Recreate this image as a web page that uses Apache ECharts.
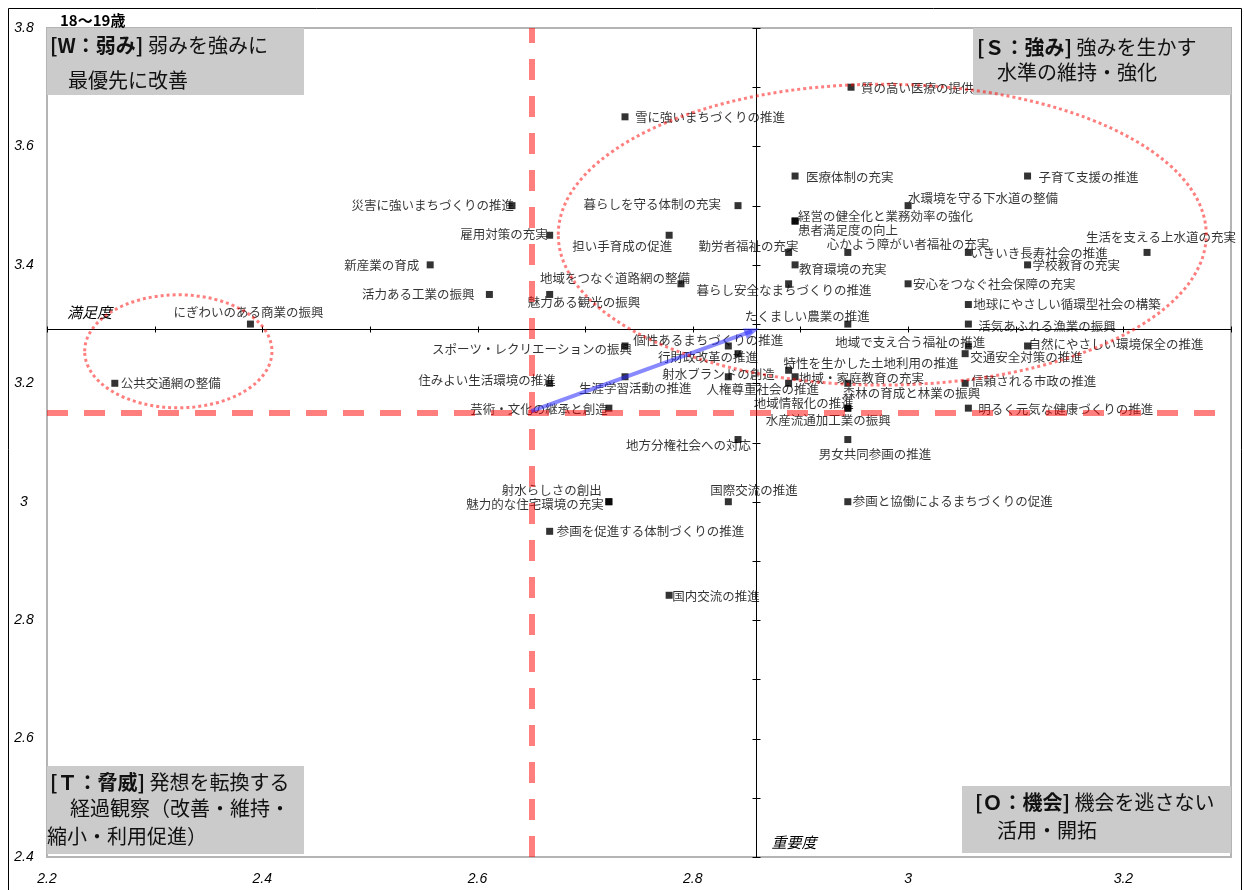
<!DOCTYPE html>
<html>
<head>
<meta charset="utf-8">
<script src="https://cdn.jsdelivr.net/npm/echarts@6/dist/echarts.min.js"></script>
<style>
  html, body { margin: 0; padding: 0; background: #fff; }
  #chart { width: 1244px; height: 890px; }
</style>
</head>
<body>
<div id="chart"></div>
<script>
// 施策ごとの重要度（横）と満足度（縦）
const policyNames = [
  '質の高い医療の提供', '雪に強いまちづくりの推進', '医療体制の充実', '子育て支援の推進',
  '水環境を守る下水道の整備', '経営の健全化と業務効率の強化', '患者満足度の向上', '暮らしを守る体制の充実',
  '災害に強いまちづくりの推進', '雇用対策の充実', '担い手育成の促進', '勤労者福祉の充実',
  '心かよう障がい者福祉の充実', 'いきいき長寿社会の推進', '学校教育の充実', '生活を支える上水道の充実',
  '教育環境の充実', '暮らし安全なまちづくりの推進', '安心をつなぐ社会保障の充実', '地球にやさしい循環型社会の構築',
  '活気あふれる漁業の振興', 'たくましい農業の推進', '新産業の育成', '活力ある工業の振興',
  '地域をつなぐ道路網の整備', '魅力ある観光の振興', 'にぎわいのある商業の振興', '公共交通網の整備',
  'スポーツ・レクリエーションの振興', '個性あるまちづくりの推進', '行財政改革の推進', '射水ブランドの創造',
  '生涯学習活動の推進', '住みよい生活環境の推進', '芸術・文化の継承と創造', '人権尊重社会の推進',
  '特性を生かした土地利用の推進', '地域・家庭教育の充実', '森林の育成と林業の振興', '地域情報化の推進',
  '水産流通加工業の振興', '明るく元気な健康づくりの推進', '信頼される市政の推進', '交通安全対策の推進',
  '地域で支え合う福祉の推進', '自然にやさしい環境保全の推進', '地方分権社会への対応', '男女共同参画の推進',
  '国際交流の推進', '参画と協働によるまちづくりの促進', '射水らしさの創出', '魅力的な住宅環境の充実',
  '参画を促進する体制づくりの推進', '国内交流の推進'
];

const importance = [
  2.947, 2.737, 2.895, 3.111,
  3.000, 2.895, 2.895, 2.842,
  2.632, 2.667, 2.778, 2.889,
  2.944, 3.056, 3.111, 3.222,
  2.895, 2.889, 3.000, 3.056,
  3.056, 2.944, 2.556, 2.611,
  2.789, 2.667, 2.389, 2.263,
  2.737, 2.833, 2.842, 2.833,
  2.737, 2.667, 2.722, 2.889,
  2.889, 2.895, 2.944, 2.944,
  2.944, 3.056, 3.053, 3.053,
  3.056, 3.111, 2.842, 2.944,
  2.833, 2.944, 2.722, 2.722,
  2.667, 2.778
];

const satisfaction = [
  3.700, 3.650, 3.550, 3.550,
  3.500, 3.474, 3.474, 3.500,
  3.500, 3.450, 3.450, 3.421,
  3.421, 3.421, 3.400, 3.421,
  3.400, 3.368, 3.368, 3.333,
  3.300, 3.300, 3.400, 3.350,
  3.368, 3.350, 3.300, 3.200,
  3.263, 3.263, 3.250, 3.211,
  3.211, 3.200, 3.158, 3.200,
  3.222, 3.211, 3.200, 3.158,
  3.158, 3.158, 3.200, 3.250,
  3.263, 3.263, 3.105, 3.105,
  3.000, 3.000, 3.000, 3.000,
  2.950, 2.842
];

// 平均値（前回 → 今回）
const previousMean = [2.650, 3.153];
const currentMean = [2.859, 3.292];

const xTickLabels = ['2.2', '2.4', '2.6', '2.8', '3', '3.2'];
const yTickLabels = ['2.4', '2.6', '2.8', '3', '3.2', '3.4', '3.6', '3.8'];
const xCrossTicks = [2.2, 2.3, 2.4, 2.5, 2.6, 2.7, 2.8, 2.9, 3.0, 3.1, 3.2, 3.3];
const yCrossTicks = [2.4, 2.5, 2.6, 2.7, 2.8, 2.9, 3.0, 3.1, 3.2, 3.3, 3.4, 3.5, 3.6, 3.7, 3.8];

const X_MIN = 2.2, X_MAX = 3.3, Y_MIN = 2.4, Y_MAX = 3.8;

// ラベルの配置（揃え, 横ずれ, 縦ずれ）: 点の中心から
const labelPlacement = [
  ['left', 10, 1], ['left', 10, 0], ['left', 11, 1], ['left', 11, 1],
  ['left', 0, -7], ['left', 3, -5], ['left', 3, 9], ['right', -17, -1],
  ['right', 2, 0], ['right', -2, -1], ['right', 3, 11], ['right', 10, -6],
  ['left', -21, -8], ['left', 2, 1], ['left', 5, 0], ['left', -61, -15],
  ['left', 4, 4], ['left', -92, 6], ['left', 5, 0], ['left', 5, 0],
  ['left', 10, 2], ['left', -103, -8], ['right', -11, 0], ['right', -15, 0],
  ['right', 9, -6], ['left', -22, 8], ['left', -77, -12], ['left', 6, 0],
  ['right', 7, 3], ['left', -95, -6], ['left', -80, 4], ['left', -66, -3],
  ['left', -46, 11], ['right', 6, -3], ['right', -1, 1], ['left', -82, 6],
  ['left', -5, -7], ['left', 4, 1], ['left', -5, 10], ['left', -94, -5],
  ['left', -82, 12], ['left', 10, 1], ['left', 6, -2], ['left', 5, 4],
  ['left', -133, -4], ['left', 1, -2], ['left', -112, 6], ['left', -29, 15],
  ['left', -18, -11], ['left', 5, 0], ['right', -7, -11], ['right', -5, 3],
  ['left', 7, 0], ['left', 3, 1]
];

// 注目グループを囲む楕円（データ座標の中心と半径）
const groupEllipses = [
  { center: [2.976, 3.451], radius: [0.301, 0.254] },
  { center: [2.322, 3.254], radius: [0.087, 0.0954] }
];

const CJK = '"Noto Sans CJK JP", "Noto Sans", sans-serif';
const LATIN = '"Liberation Sans", Arial, sans-serif';

const pointData = policyNames.map((name, i) => ({
  name: name,
  value: [importance[i], satisfaction[i]],
  label: {
    show: true,
    position: 'inside',
    align: labelPlacement[i][0],
    verticalAlign: 'middle',
    offset: [labelPlacement[i][1], labelPlacement[i][2]]
  }
}));

function tickText(list) {
  return function (v) {
    const hit = list.find(l => Math.abs(parseFloat(l) - v) < 1e-6);
    return hit === undefined ? '' : hit;
  };
}

const chart = echarts.init(document.getElementById('chart'), null, { renderer: 'canvas' });

chart.setOption({
  animation: false,
  backgroundColor: '#fff',
  grid: {
    left: 47, top: 28, right: 13, bottom: 33,
    show: true, borderColor: '#b4b4b4', borderWidth: 2, backgroundColor: 'transparent'
  },
  xAxis: {
    type: 'value', min: X_MIN, max: X_MAX, interval: 0.2,
    axisLine: { show: false }, axisTick: { show: false }, splitLine: { show: false },
    axisLabel: {
      margin: 15, showMaxLabel: false,
      fontFamily: LATIN, fontStyle: 'italic', fontSize: 14, color: '#000',
      formatter: tickText(xTickLabels)
    }
  },
  yAxis: {
    type: 'value', min: Y_MIN, max: Y_MAX, interval: 0.2,
    axisLine: { show: false }, axisTick: { show: false }, splitLine: { show: false },
    axisLabel: {
      margin: 23, align: 'center',
      fontFamily: LATIN, fontStyle: 'italic', fontSize: 14, color: '#000',
      formatter: tickText(yTickLabels)
    }
  },
  series: [
    {
      // 平均値で交差する軸と目盛り
      type: 'custom',
      coordinateSystem: 'cartesian2d',
      z: 1,
      silent: true,
      clip: false,
      data: [currentMean],
      renderItem: function (params, api) {
        const snap = v => Math.round(v) + 0.5;
        const ls = { stroke: '#000', lineWidth: 1 };
        const l = api.coord([X_MIN, currentMean[1]]);
        const r = api.coord([X_MAX, currentMean[1]]);
        const b = api.coord([currentMean[0], Y_MIN]);
        const t = api.coord([currentMean[0], Y_MAX]);
        const yLine = snap(l[1]);
        const xLine = snap(b[0]);
        const children = [
          { type: 'line', shape: { x1: l[0], y1: yLine, x2: r[0], y2: yLine }, style: ls },
          { type: 'line', shape: { x1: xLine, y1: t[1], x2: xLine, y2: b[1] }, style: ls }
        ];
        xCrossTicks.forEach(v => {
          const p = api.coord([v, currentMean[1]]);
          const x = snap(p[0]);
          children.push({ type: 'line', shape: { x1: x, y1: yLine - 3, x2: x, y2: yLine + 3 }, style: ls });
        });
        yCrossTicks.forEach(v => {
          const p = api.coord([currentMean[0], v]);
          const y = snap(p[1]);
          children.push({ type: 'line', shape: { x1: xLine - 4, y1: y, x2: xLine + 4, y2: y }, style: ls });
        });
        children.push({
          type: 'text', x: l[0] + 20, y: yLine - 17,
          style: { text: '満足度', fontFamily: CJK, fontStyle: 'italic', fontSize: 15, fill: '#000',
                   align: 'left', verticalAlign: 'middle' }
        });
        children.push({
          type: 'text', x: xLine + 15, y: b[1] - 15,
          style: { text: '重要度', fontFamily: CJK, fontStyle: 'italic', fontSize: 15, fill: '#000',
                   align: 'left', verticalAlign: 'middle' }
        });
        return { type: 'group', children: children };
      }
    },
    {
      type: 'scatter',
      z: 3,
      symbol: 'rect',
      symbolSize: 7,
      itemStyle: { color: '#000' },
      label: {
        formatter: '{b}',
        fontFamily: CJK, fontSize: 12.5, color: '#000'
      },
      emphasis: { disabled: true },
      data: pointData
    },
    {
      // 前回平均の破線
      type: 'line',
      z: 5,
      data: [],
      markLine: {
        silent: true,
        symbol: ['none', 'none'],
        label: { show: false },
        emphasis: { disabled: true },
        lineStyle: { color: 'rgba(255,0,0,0.5)', width: 6, type: [21, 16] },
        data: [{ xAxis: previousMean[0] }, { yAxis: previousMean[1] }]
      }
    },
    {
      // 平均値の移動を示す矢印
      type: 'line',
      z: 6,
      data: [],
      markLine: {
        silent: true,
        symbol: ['none', 'triangle'],
        symbolSize: [11, 15],
        label: { show: false },
        emphasis: { disabled: true },
        lineStyle: { color: 'rgba(40,40,255,0.55)', width: 4, type: 'solid' },
        data: [[{ coord: previousMean }, { coord: [currentMean[0] - 0.004, currentMean[1] - 0.004] }]]
      }
    }
  ]
});

// 四象限の見出しボックス
function quadrantBox(x, y, w, h, lines) {
  const els = [{
    type: 'rect', z: 100, silent: true,
    shape: { x: x, y: y, width: w, height: h },
    style: { fill: '#cbcbcb', stroke: null }
  }];
  lines.forEach(ln => {
    els.push({
      type: 'text', z: 101, silent: true, x: ln.x, y: ln.y,
      style: {
        text: ln.text, fontFamily: CJK, fontSize: 20, fill: '#111',
        align: 'left', verticalAlign: 'middle',
        rich: { b: { fontFamily: CJK, fontSize: 20, fontWeight: 'bold', fill: '#111' } }
      }
    });
  });
  return els;
}

const graphics = [].concat(
  [{
    type: 'rect', z: 120, silent: true,
    shape: { x: 8.5, y: 8.5, width: 1233, height: 900 },
    style: { fill: null, stroke: '#000', lineWidth: 1 }
  }, {
    type: 'text', z: 120, silent: true, x: 60, y: 20,
    style: { text: '18～19歳', fontFamily: CJK, fontSize: 15, fontWeight: 'bold', fill: '#000',
             align: 'left', verticalAlign: 'middle' }
  }],
  quadrantBox(47, 28, 257, 67, [
    { x: 50, y: 45, text: '{b|[W：弱み]} 弱みを強みに' },
    { x: 68, y: 80, text: '最優先に改善' }
  ]),
  quadrantBox(973, 28, 258, 67, [
    { x: 977, y: 47, text: '{b|[Ｓ：強み]} 強みを生かす' },
    { x: 997, y: 72, text: '水準の維持・強化' }
  ]),
  quadrantBox(47, 766, 257, 88, [
    { x: 50, y: 782, text: '{b|[Ｔ：脅威]} 発想を転換する' },
    { x: 70, y: 808, text: '経過観察（改善・維持・' },
    { x: 47, y: 836, text: '縮小・利用促進）' }
  ]),
  quadrantBox(962, 786, 269, 67, [
    { x: 975, y: 802, text: '{b|[Ｏ：機会]} 機会を逃さない' },
    { x: 997, y: 830, text: '活用・開拓' }
  ])
);

groupEllipses.forEach(e => {
  const c = chart.convertToPixel({ gridIndex: 0 }, e.center);
  const px = chart.convertToPixel({ gridIndex: 0 }, [e.center[0] + e.radius[0], e.center[1] + e.radius[1]]);
  graphics.push({
    type: 'ellipse', z: 110, silent: true,
    shape: { cx: c[0], cy: c[1], rx: Math.abs(px[0] - c[0]), ry: Math.abs(px[1] - c[1]) },
    style: { fill: null, stroke: 'rgba(255,0,0,0.5)', lineWidth: 3, lineDash: [3, 3] }
  });
});

chart.setOption({ graphic: graphics });
</script>
</body>
</html>
